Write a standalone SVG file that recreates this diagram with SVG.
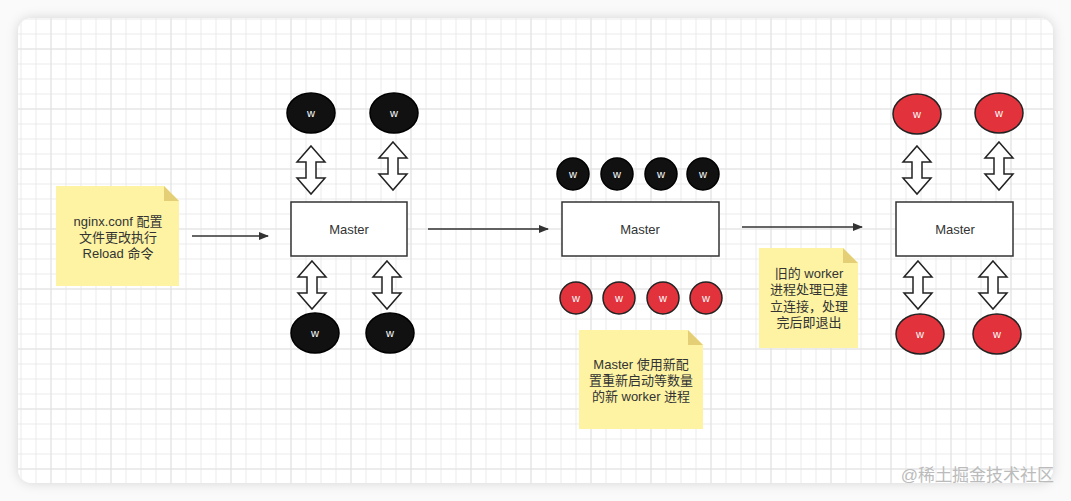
<svg xmlns="http://www.w3.org/2000/svg" width="1071" height="501" viewBox="0 0 1071 501">
<style>
.t{font-family:"Liberation Sans","Noto Sans CJK SC",sans-serif;font-size:13px;fill:#333;text-anchor:middle}
.wt{font-family:"Liberation Sans",sans-serif;font-size:11px;fill:#fff;text-anchor:middle}
.m{font-family:"Liberation Sans",sans-serif;font-size:13px;fill:#333;text-anchor:middle}
.box{fill:#fff;stroke:#333;stroke-width:1.5}
.bw{fill:#111;stroke:#000;stroke-width:1.5}
.rw{fill:#e2323b;stroke:#222;stroke-width:1.5}
.da{fill:#fff;stroke:#222;stroke-width:1.5;stroke-linejoin:miter}
.note{fill:#fdf3a3}
.fold{fill:#e5cf76}
.conn{stroke:#333;stroke-width:1.5;fill:none}
</style>
<defs>
<pattern id="minor" patternUnits="userSpaceOnUse" x="35.5" y="33.5" width="15" height="15">
<path d="M0 0.5H15M0.5 0V15" stroke="#eaeaea" stroke-width="1" fill="none"/>
</pattern>
<pattern id="major" patternUnits="userSpaceOnUse" x="50.5" y="48.5" width="60" height="60">
<path d="M0 0.5H60M0.5 0V60" stroke="#e2e2e2" stroke-width="1" fill="none"/>
</pattern>
<filter id="sh" x="-5%" y="-5%" width="110%" height="110%">
<feDropShadow dx="0" dy="0" stdDeviation="6" flood-color="#000" flood-opacity="0.15"/>
</filter>
<clipPath id="cardclip"><rect x="18" y="18" width="1035" height="465" rx="14"/></clipPath>
<marker id="ah" viewBox="0 0 10 10" refX="9" refY="5" markerWidth="10" markerHeight="10" markerUnits="userSpaceOnUse" orient="auto">
<path d="M0 1L10 5L0 9Z" fill="#333"/>
</marker>
<path id="dbl" class="da" d="M0 -24L14 -8H5V8H14L0 24L-14 8H-5V-8H-14Z"/>
</defs>
<rect width="1071" height="501" fill="#fafafa"/>
<rect x="18" y="18" width="1035" height="465" rx="14" fill="#fff" filter="url(#sh)"/>
<g clip-path="url(#cardclip)">
<rect x="18" y="18" width="1035" height="465" fill="url(#minor)"/>
<rect x="18" y="18" width="1035" height="465" fill="url(#major)"/>
</g>

<g id="connectors">
<line class="conn" x1="192" y1="236" x2="268" y2="236" marker-end="url(#ah)"/>
<line class="conn" x1="428" y1="229" x2="548" y2="229" marker-end="url(#ah)"/>
<line class="conn" x1="742" y1="227" x2="862" y2="227" marker-end="url(#ah)"/>
<use href="#dbl" x="311" y="170"/>
<use href="#dbl" x="393" y="166"/>
<use href="#dbl" x="312" y="285"/>
<use href="#dbl" x="387" y="285"/>
<use href="#dbl" x="917" y="170"/>
<use href="#dbl" x="999" y="166"/>
<use href="#dbl" x="918" y="285"/>
<use href="#dbl" x="993" y="285"/>
</g>

<g id="note1">
<path class="note" d="M56 186H164L179 201V286H56Z"/>
<path class="fold" d="M164 186L179 201H164Z"/>
<text class="t" x="118" y="226">nginx.conf 配置</text>
<text class="t" x="118" y="242">文件更改执行</text>
<text class="t" x="118" y="258">Reload 命令</text>
</g>

<g id="master1">
<rect class="box" x="291" y="202" width="116" height="54"/>
<text class="m" x="349" y="234">Master</text>
</g>
<g id="w1a"><ellipse class="bw" cx="311" cy="113" rx="24" ry="20"/><text class="wt" x="311" y="117">w</text></g>
<g id="w1b"><ellipse class="bw" cx="394" cy="113" rx="24" ry="20"/><text class="wt" x="394" y="117">w</text></g>
<g id="w1c"><ellipse class="bw" cx="315" cy="333" rx="24" ry="20"/><text class="wt" x="315" y="337">w</text></g>
<g id="w1d"><ellipse class="bw" cx="390" cy="333" rx="24" ry="20"/><text class="wt" x="390" y="337">w</text></g>

<g id="master2">
<rect class="box" x="562" y="202" width="157" height="54"/>
<text class="m" x="640" y="234">Master</text>
</g>
<g id="w2a"><circle class="bw" cx="573" cy="174" r="16"/><text class="wt" x="573" y="178">w</text></g>
<g id="w2b"><circle class="bw" cx="617" cy="174" r="16"/><text class="wt" x="617" y="178">w</text></g>
<g id="w2c"><circle class="bw" cx="661" cy="174" r="16"/><text class="wt" x="661" y="178">w</text></g>
<g id="w2d"><circle class="bw" cx="703" cy="174" r="16"/><text class="wt" x="703" y="178">w</text></g>
<g id="w2e"><circle class="rw" cx="576" cy="298" r="16"/><text class="wt" x="576" y="302">w</text></g>
<g id="w2f"><circle class="rw" cx="619" cy="298" r="16"/><text class="wt" x="619" y="302">w</text></g>
<g id="w2g"><circle class="rw" cx="663" cy="298" r="16"/><text class="wt" x="663" y="302">w</text></g>
<g id="w2h"><circle class="rw" cx="706" cy="298" r="16"/><text class="wt" x="706" y="302">w</text></g>

<g id="note2">
<path class="note" d="M579 330H688L703 345V429H579Z"/>
<path class="fold" d="M688 330L703 345H688Z"/>
<text class="t" x="641" y="369">Master 使用新配</text>
<text class="t" x="641" y="385">置重新启动等数量</text>
<text class="t" x="641" y="401">的新 worker 进程</text>
</g>

<g id="note3">
<path class="note" d="M759 248H843L858 263V348H759Z"/>
<path class="fold" d="M843 248L858 263H843Z"/>
<text class="t" x="809" y="278">旧的 worker</text>
<text class="t" x="809" y="294">进程处理已建</text>
<text class="t" x="809" y="311">立连接，处理</text>
<text class="t" x="809" y="327">完后即退出</text>
</g>

<g id="master3">
<rect class="box" x="896" y="202" width="117" height="54"/>
<text class="m" x="955" y="234">Master</text>
</g>
<g id="w3a"><ellipse class="rw" cx="917" cy="114" rx="24" ry="20"/><text class="wt" x="917" y="118">w</text></g>
<g id="w3b"><ellipse class="rw" cx="999" cy="113" rx="24" ry="20"/><text class="wt" x="999" y="117">w</text></g>
<g id="w3c"><ellipse class="rw" cx="920" cy="334" rx="24" ry="20"/><text class="wt" x="920" y="338">w</text></g>
<g id="w3d"><ellipse class="rw" cx="997" cy="334" rx="24" ry="20"/><text class="wt" x="997" y="338">w</text></g>

<text x="1054" y="481" style="font-family:'Liberation Sans','Noto Sans CJK SC',sans-serif;font-size:17px;fill:#bbb;text-anchor:end">@稀土掘金技术社区</text>
</svg>
